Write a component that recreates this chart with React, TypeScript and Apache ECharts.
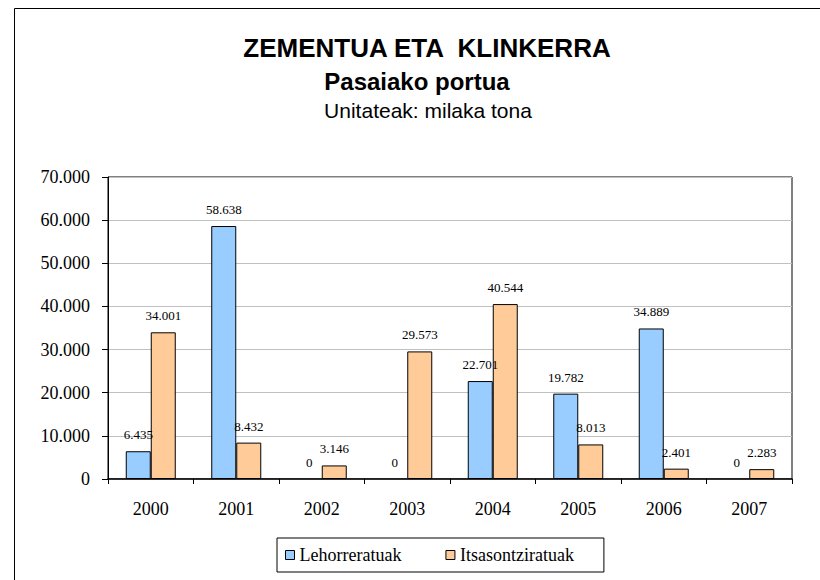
import React, { useEffect, useRef } from "react";
import * as echarts from "echarts";

const years = ["2000", "2001", "2002", "2003", "2004", "2005", "2006", "2007"];
const lehorreratuak = [6435, 58638, 0, 0, 22701, 19782, 34889, 0];
const itsasontziratuak = [34001, 8432, 3146, 29573, 40544, 8013, 2401, 2283];
const seriesNames = ["Lehorreratuak", "Itsasontziratuak"];
const titleText = "ZEMENTUA ETA  KLINKERRA";
const subtitleText = "Pasaiako portua";
const unitText = "Unitateak: milaka tona";

const SERIF = "'Liberation Serif', 'Times New Roman', serif";
const SANS = "'Liberation Sans', Arial, sans-serif";

function fmt(v: number): string {
  return String(v).replace(/\B(?=(\d{3})+(?!\d))/g, ".");
}

function toItems(arr: number[]) {
  return arr.map((v) => (v === 0 ? { value: v, itemStyle: { borderWidth: 0 } } : v));
}

export default function App() {
  const ref = useRef<HTMLDivElement>(null);
  useEffect(() => {
    if (!ref.current) return;
    const chart = echarts.init(ref.current, undefined, { renderer: "svg" });
    const labelCfg = {
      show: true,
      position: "top" as const,
      distance: 10,
      fontFamily: SERIF,
      fontSize: 13,
      color: "#000",
      formatter: (p: any) => fmt(p.value),
    };
    chart.setOption({
      animation: false,
      backgroundColor: "#fff",
      graphic: [
        {
          type: "rect",
          shape: { x: 14.5, y: 8.5, width: 900, height: 700 },
          style: { fill: "none", stroke: "#000", lineWidth: 1 },
          silent: true,
        },
        {
          type: "text",
          x: 427,
          y: 48,
          style: {
            text: titleText,
            font: `bold 26px ${SANS}`,
            fill: "#000",
            align: "center",
            verticalAlign: "middle",
          },
        },
        {
          type: "text",
          x: 417,
          y: 81,
          style: {
            text: subtitleText,
            font: `bold 24px ${SANS}`,
            fill: "#000",
            align: "center",
            verticalAlign: "middle",
          },
        },
        {
          type: "text",
          x: 428,
          y: 110,
          style: {
            text: unitText,
            font: `21px ${SANS}`,
            fill: "#000",
            align: "center",
            verticalAlign: "middle",
          },
        },
      ],
      grid: {
        left: 108,
        right: 28,
        top: 177,
        bottom: 101,
        show: true,
        borderColor: "#000",
        borderWidth: 1,
        backgroundColor: "transparent",
      },
      legend: {
        left: 277,
        top: 538,
        orient: "horizontal",
        data: seriesNames,
        icon: "rect",
        itemWidth: 9,
        itemHeight: 9,
        itemGap: 44,
        padding: [8, 30, 8, 8],
        borderColor: "#000",
        borderWidth: 1,
        backgroundColor: "#fff",
        itemStyle: { borderColor: "#000", borderWidth: 1 },
        textStyle: { fontFamily: SERIF, fontSize: 18, color: "#000" },
      },
      xAxis: {
        type: "category",
        data: years,
        axisLine: { lineStyle: { color: "#000", width: 1.5 } },
        axisTick: { show: true, length: 5, lineStyle: { color: "#000" } },
        axisLabel: {
          fontFamily: SERIF,
          fontSize: 18,
          color: "#000",
          margin: 21,
        },
      },
      yAxis: {
        type: "value",
        min: 0,
        max: 70000,
        interval: 10000,
        axisLine: { show: true, lineStyle: { color: "#000" } },
        axisTick: { show: true, length: 6, lineStyle: { color: "#000" } },
        axisLabel: {
          fontFamily: SERIF,
          fontSize: 18,
          color: "#000",
          margin: 18,
          formatter: (v: number) => fmt(v),
        },
        splitLine: { show: true, lineStyle: { color: "#c0c0c0", width: 1 } },
      },
      series: [
        {
          name: seriesNames[0],
          type: "bar",
          data: toItems(lehorreratuak),
          barWidth: 25,
          barGap: "0%",
          itemStyle: { color: "#99ccff", borderColor: "#000", borderWidth: 1 },
          label: labelCfg,
        },
        {
          name: seriesNames[1],
          type: "bar",
          data: toItems(itsasontziratuak),
          barWidth: 25,
          barGap: "0%",
          itemStyle: { color: "#ffcc99", borderColor: "#000", borderWidth: 1 },
          label: labelCfg,
        },
      ],
    });
    return () => chart.dispose();
  }, []);
  return (
    <div
      ref={ref}
      style={{ position: "fixed", left: 0, top: 0, width: 820, height: 580, background: "#fff" }}
    />
  );
}
